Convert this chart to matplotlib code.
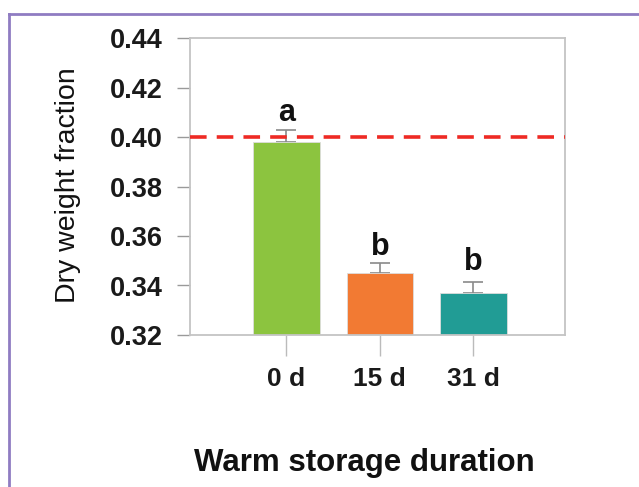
import matplotlib
matplotlib.use("Agg")
import matplotlib.pyplot as plt
from matplotlib.lines import Line2D

# data
groups = ["0 d", "15 d", "31 d"]
dry_weight = [0.398, 0.345, 0.337]
err_up = [0.005, 0.004, 0.0045]
letters = ["a", "b", "b"]
letter_y = [0.4095, 0.3555, 0.3495]
bar_colors = ["#8cc43f", "#f27a33", "#219c95"]
ref_level = 0.40
y_ticks = [0.32, 0.34, 0.36, 0.38, 0.40, 0.42, 0.44]

plt.rcParams["font.family"] = ["Liberation Sans", "DejaVu Sans"]

W, H = 639, 487
fig = plt.figure(figsize=(W / 100, H / 100), dpi=100)
ax = fig.add_axes([190 / W, 1 - 335 / H, 375 / W, 297 / H])

x = list(range(len(groups)))
ax.bar(x, dry_weight, width=0.71, color=bar_colors, zorder=2,
       edgecolor="#dddddd", linewidth=0.6)
ax.errorbar(x, dry_weight, yerr=[[0, 0, 0], err_up], fmt="none",
            ecolor="#8a8a8a", elinewidth=1.2, capsize=7, capthick=1.2, zorder=1)
for xi, lab, ly in zip(x, letters, letter_y):
    ax.text(xi, ly, lab, ha="center", va="center", fontsize=22,
            fontweight="bold", color="#111111")

ax.axhline(ref_level, color="#ee2a24", lw=2.6, dashes=(4.6, 2.8), zorder=3)

ax.set_xlim(-1.03, 2.98)
ax.set_ylim(0.32, 0.44)
ax.set_yticks(y_ticks)
ax.set_yticklabels(["%.2f" % v for v in y_ticks], fontweight="bold", fontsize=19.5)
ax.set_xticks(x)
ax.set_xticklabels(groups, fontweight="bold", fontsize=19)

for s in ax.spines.values():
    s.set_color("#c4c4c4")
    s.set_linewidth(1.3)
ax.tick_params(axis="y", length=9.5, width=1, color="#9a9a9a", pad=10,
               labelcolor="#1a1a1a")
ax.tick_params(axis="x", length=15, width=1, color="#bbbbbb", pad=8,
               labelcolor="#1a1a1a")

fig.text(68 / W, 1 - 185 / H, "Dry weight fraction", rotation=90,
         ha="center", va="center", fontsize=20.5, color="#111111")
fig.text(364 / W, 1 - 463 / H, "Warm storage duration", ha="center",
         va="center", fontsize=22.5, fontweight="bold", color="#111111")

# purple frame on the left and top
border = "#8f7cc2"
fig.add_artist(Line2D([9 / W, 9 / W], [0, 1 - 14 / H], color=border, lw=2))
fig.add_artist(Line2D([9 / W, 1], [1 - 14 / H, 1 - 14 / H], color=border, lw=2))

fig.savefig("out.png", dpi=100)
